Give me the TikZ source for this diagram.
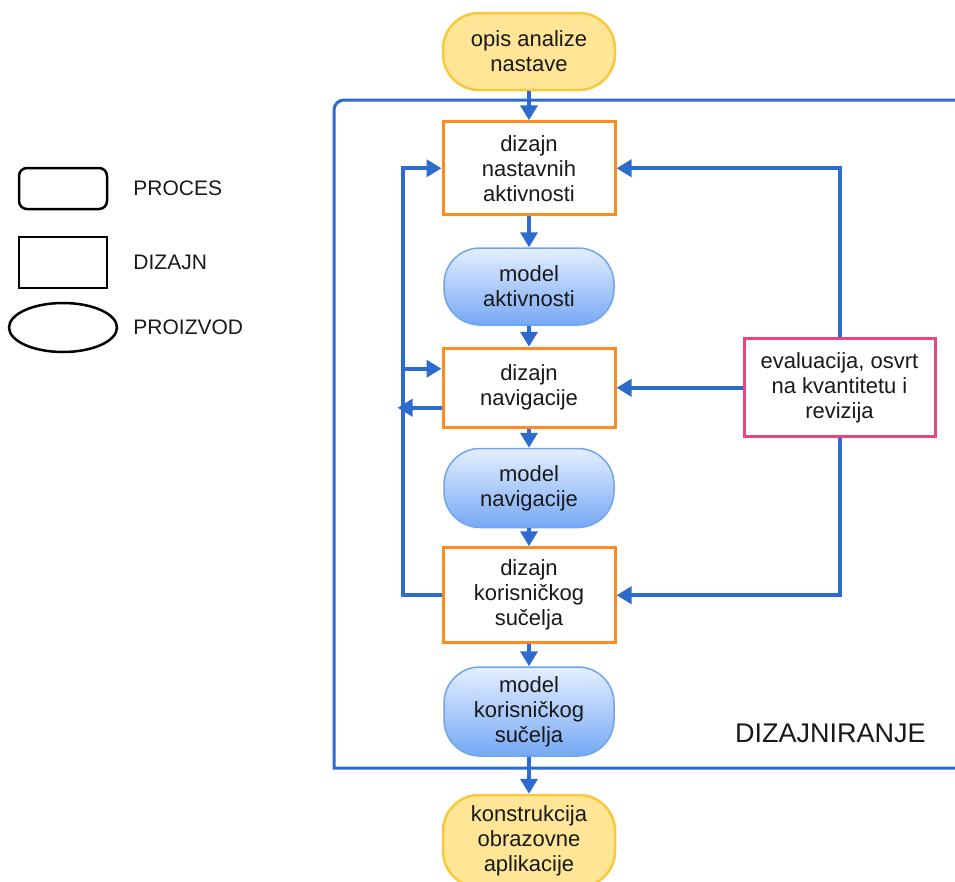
\documentclass[tikz,border=0pt]{standalone}
\usepackage{fontspec}
\setmainfont{Liberation Sans}
\usetikzlibrary{arrows.meta, positioning, shapes.geometric}

\definecolor{flowblue}{RGB}{45,108,206}
\definecolor{procfill}{RGB}{255,229,150}
\definecolor{procline}{RGB}{250,200,60}
\definecolor{designline}{RGB}{255,138,30}
\definecolor{modeltop}{RGB}{228,239,255}
\definecolor{modelbot}{RGB}{118,168,245}
\definecolor{modelline}{RGB}{110,165,238}
\definecolor{evalline}{RGB}{232,70,128}
\definecolor{inktext}{RGB}{25,25,25}

\begin{document}
\begin{tikzpicture}[
  x=1pt, y=1pt,
  font=\fontsize{22}{25}\selectfont, text=inktext,
  process/.style = {draw=procline, line width=2.5pt, fill=procfill, rounded corners=36pt, minimum width=172pt, minimum height=77pt, align=center},
  design/.style = {draw=designline, line width=3pt, fill=white, minimum width=172pt, align=center},
  model/.style = {draw=modelline, line width=1.5pt, top color=modeltop, bottom color=modelbot, rounded corners=36pt, minimum width=170pt, align=center},
  review/.style = {draw=evalline, line width=3pt, fill=white, minimum width=191pt, minimum height=98pt, align=center},
  arrow/.style = {draw=flowblue, line width=4pt, -{Triangle[length=15pt, width=17pt]}},
  frame/.style = {draw=flowblue, line width=3pt},
  legend/.style = {draw=black, line width=2.5pt, minimum width=88pt},
  legtext/.style = {inner sep=0pt, anchor=west, font=\fontsize{21}{25}\selectfont}
]
  \useasboundingbox (0,0) rectangle (955,-881);

  % Stage frame
  \draw[frame] (965,-100) -- (344,-100) arc[start angle=90, end angle=180, radius=10] -- (334,-768) -- (965,-768);
  \node[legtext, font=\fontsize{27}{30}\selectfont] (stage) at (735,-733) {DIZAJNIRANJE};

  % Legend
  \node[legend, rounded corners=8pt, minimum height=41pt] (legProc) at (63,-188.5) {};
  \node[legend, minimum height=51pt] (legDesign) at (63,-262.5) {};
  \node[legend, ellipse, minimum width=108pt, minimum height=49pt] (legProd) at (63,-327.5) {};
  \node[legtext, right=25pt of legProc] (txtProc) {PROCES};
  \node[legtext, right=25pt of legDesign] (txtDesign) {DIZAJN};
  \node[legtext, right=15pt of legProd] (txtProd) {PROIZVOD};

  % Main chain
  \node[process] (opis) at (529,-51.5) {opis analize\\nastave};
  \node[design, minimum height=93pt, below=29pt of opis] (dzAkt) {dizajn\\nastavnih\\aktivnosti};
  \node[model, minimum height=77pt, below=31pt of dzAkt] (mAkt) {model\\aktivnosti};
  \node[design, minimum height=79pt, below=21pt of mAkt] (dzNav) {dizajn\\navigacije};
  \node[model, minimum height=79pt, below=19pt of dzNav] (mNav) {model\\navigacije};
  \node[design, minimum height=95pt, below=18pt of mNav] (dzUI) {dizajn\\korisničkog\\sučelja};
  \node[model, minimum height=89pt, below=22pt of dzUI] (mUI) {model\\korisničkog\\sučelja};
  \node[process, minimum height=92pt, below=37pt of mUI] (konstr) {konstrukcija\\obrazovne\\aplikacije};

  % Evaluation
  \node[review, right=126pt of dzNav] (eval) {evaluacija, osvrt\\na kvantitetu i\\revizija};

  % Downward flow
  \draw[arrow] (opis) -- (dzAkt);
  \draw[arrow] (dzAkt) -- (mAkt);
  \draw[arrow] (mAkt) -- (dzNav);
  \draw[arrow] (dzNav) -- (mNav);
  \draw[arrow] (mNav) -- (dzUI);
  \draw[arrow] (dzUI) -- (mUI);
  \draw[arrow] (mUI) -- (konstr);

  % Feedback from evaluation
  \draw[arrow] (eval.north) |- (dzAkt.east);
  \draw[arrow] (eval.west) -- (dzNav.east);
  \draw[arrow] (eval.south) |- (dzUI.east);

  % Left loop
  \coordinate[left=39pt of dzAkt.west] (leftbus);
  \coordinate[above=19pt of dzNav.west] (navIn);
  \coordinate[below=20pt of dzNav.west] (navOut);
  \path (leftbus |- navOut) ++(-5pt,0) coordinate (busOut);
  \draw[arrow] (dzUI.west) -| (leftbus) -- (dzAkt.west);
  \draw[arrow] (leftbus |- navIn) -- (navIn);
  \draw[arrow] (navOut) -- (busOut);

\end{tikzpicture}
\end{document}
